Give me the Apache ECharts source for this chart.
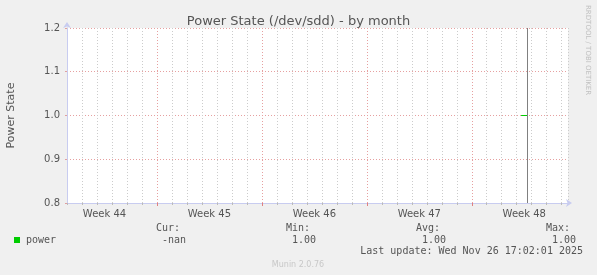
<!DOCTYPE html>
<html>
<head>
<meta charset="utf-8">
<script src="https://cdn.jsdelivr.net/npm/echarts@6/dist/echarts.min.js"></script>
<style>
html,body{margin:0;padding:0;background:#f0f0f0;}
#c{width:597px;height:275px;}
</style>
</head>
<body>
<div id="c"></div>
<script>
// x values are in days from the left edge of the graph
const xMin = 0;
const xMax = 33.42;
const weekCenters = [2.5, 9.5, 16.5, 23.5, 30.5];
const weekLabels = ['Week 44', 'Week 45', 'Week 46', 'Week 47', 'Week 48'];
const weekBoundaries = [6, 13, 20, 27];
const powerX = [30.29, 30.69];
const powerY = [1.0, 1.0];
const nowLineX = 30.72;
const yMin = 0.8, yMax = 1.2, yInterval = 0.1;
const statHeaders = ['Cur:', 'Min:', 'Avg:', 'Max:'];
const statValues = ['-nan', '1.00', '1.00', '1.00'];
const seriesName = 'power';
const lastUpdate = 'Last update: Wed Nov 26 17:02:01 2025';

const chart = echarts.init(document.getElementById('c'), null, {renderer: 'canvas'});
const mono = '"DejaVu Sans Mono", monospace';
const sans = '"DejaVu Sans", sans-serif';

const graphics = [];
const statRight = [180, 310, 440, 570];
statHeaders.forEach((h, i) => {
  graphics.push({type: 'text', x: statRight[i], y: 228, style: {text: h, font: '10px ' + mono, fill: '#555', textAlign: 'right', textVerticalAlign: 'middle'}});
  graphics.push({type: 'text', x: statRight[i] + 6, y: 240, style: {text: statValues[i], font: '10px ' + mono, fill: '#555', textAlign: 'right', textVerticalAlign: 'middle'}});
});
graphics.push({type: 'rect', shape: {x: 14, y: 237, width: 6, height: 6}, style: {fill: '#00cc00'}});
graphics.push({type: 'text', x: 26, y: 240, style: {text: seriesName, font: '10px ' + mono, fill: '#555', textVerticalAlign: 'middle'}});
graphics.push({type: 'text', x: 583, y: 251.5, style: {text: lastUpdate, font: '10px ' + mono, fill: '#555', textAlign: 'right', textVerticalAlign: 'middle'}});
graphics.push({type: 'text', x: 298, y: 264.5, style: {text: 'Munin 2.0.76', font: '8px ' + sans, fill: '#c8c8c8', textAlign: 'center', textVerticalAlign: 'middle'}});
graphics.push({type: 'text', x: 588, y: 5, rotation: -Math.PI / 2, style: {text: 'RRDTOOL / TOBI OETIKER', font: '7px ' + sans, fill: '#c0c0c0', textAlign: 'left', textVerticalAlign: 'middle'}});

const option = {
  backgroundColor: '#f0f0f0',
  animation: false,
  title: {
    text: 'Power State (/dev/sdd) - by month',
    left: 'center',
    top: 10,
    textStyle: {fontFamily: sans, fontSize: 13, fontWeight: 'normal', color: '#555'}
  },
  grid: {left: 67, right: 29, top: 28, bottom: 72, backgroundColor: '#ffffff', show: true, borderWidth: 0, containLabel: false, outerBoundsMode: 'none'},
  xAxis: [{
    type: 'value', min: xMin, max: xMax, interval: 1,
    axisLine: {show: true, lineStyle: {color: '#c8ccf0'}, symbol: ['none', 'arrow'], symbolSize: [6, 6], symbolOffset: [0, 4]},
    axisTick: {show: true, length: 2, lineStyle: {color: '#bbbbbb'}},
    splitLine: {show: true, lineStyle: {color: '#cccccc', type: [1, 2]}},
    axisLabel: {
      show: true, customValues: weekCenters, color: '#555', fontFamily: sans, fontSize: 10, margin: 6,
      formatter: v => weekLabels[weekCenters.indexOf(v)] || ''
    }
  }, {
    type: 'value', min: xMin, max: xMax, position: 'bottom',
    axisLine: {show: false},
    axisTick: {show: true, customValues: weekBoundaries, length: 3, lineStyle: {color: '#e08080'}},
    axisLabel: {show: false},
    splitLine: {show: false}
  }],
  yAxis: {
    type: 'value', min: yMin, max: yMax, interval: yInterval,
    name: 'Power State', nameLocation: 'middle', nameGap: 50,
    nameTextStyle: {fontFamily: sans, fontSize: 11, color: '#555'},
    axisLine: {show: true, lineStyle: {color: '#c8ccf0'}, symbol: ['none', 'arrow'], symbolSize: [6, 6], symbolOffset: [0, 6]},
    axisTick: {show: true, length: 2, inside: false, lineStyle: {color: '#e0a0a0'}},
    splitLine: {show: true, lineStyle: {color: '#e6a0a0', type: [1, 2]}},
    axisLabel: {color: '#555', fontFamily: sans, fontSize: 10, margin: 7, formatter: v => v.toFixed(1)}
  },
  series: [{
    name: 'weeks', type: 'line', data: [], xAxisIndex: 0,
    markLine: {
      silent: true, symbol: ['none', 'none'], label: {show: false},
      lineStyle: {color: '#e6a0a0', type: [1, 2], width: 1},
      data: weekBoundaries.map(v => ({xAxis: v}))
    }
  }, {
    name: seriesName, type: 'line', xAxisIndex: 0,
    data: powerX.map((x, i) => [x, powerY[i]]),
    showSymbol: false, lineStyle: {color: '#00cc00', width: 1}, itemStyle: {color: '#00cc00'},
    markLine: {
      silent: true, symbol: ['none', 'none'], label: {show: false},
      lineStyle: {color: '#808080', type: 'solid', width: 1},
      data: [{xAxis: nowLineX}]
    }
  }],
  graphic: graphics
};
chart.setOption(option);
</script>
</body>
</html>
